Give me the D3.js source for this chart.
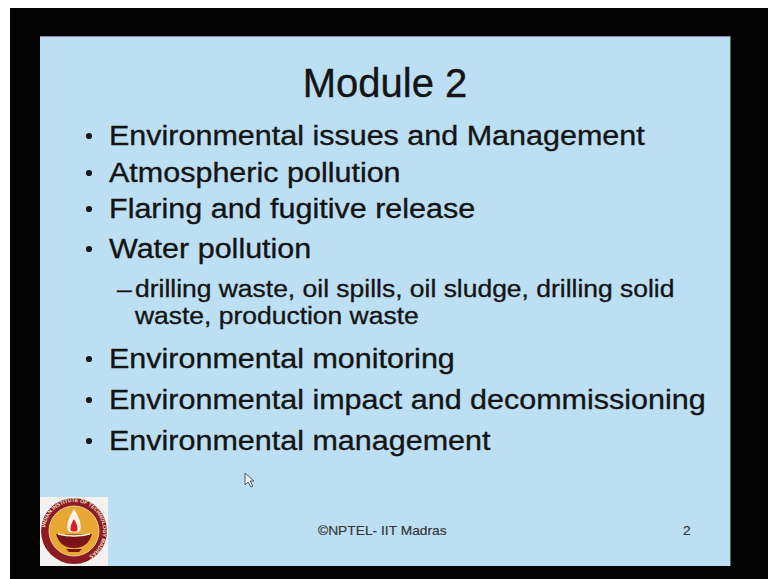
<!DOCTYPE html>
<html><head><meta charset="utf-8">
<script src="https://cdn.jsdelivr.net/npm/d3@7"></script>
<style>html,body{margin:0;padding:0;background:#fff;overflow:hidden}</style>
</head><body>
<svg id="c" width="768" height="579"></svg>
<script>
const title = "Module 2";
const bullets = [
  "Environmental issues and Management",
  "Atmospheric pollution",
  "Flaring and fugitive release",
  "Water pollution",
  "Environmental monitoring",
  "Environmental impact and decommissioning",
  "Environmental management"
];
const subItems = [
  "drilling waste, oil spills, oil sludge, drilling solid",
  "waste, production waste"
];
const footerText = "\u00A9NPTEL- IIT Madras";
const pageNumber = "2";
const logoRingText = "INDIAN INSTITUTE OF TECHNOLOGY MADRAS";

const svg = d3.select("#c");
const W = 768, H = 579;
const font = "'Liberation Sans', Arial, sans-serif";

// frame
svg.append("rect").attr("x",0).attr("y",0).attr("width",W).attr("height",H).attr("fill","#fff");
svg.append("rect").attr("x",10).attr("y",8).attr("width",W-10).attr("height",H-8).attr("fill","#030303");
const slide = {x0:40, y0:36, x1:730, y1:566};
svg.append("rect").attr("x",slide.x0).attr("y",slide.y0).attr("width",slide.x1-slide.x0).attr("height",slide.y1-slide.y0).attr("fill","#bcdff4");
svg.append("line").attr("x1",slide.x0).attr("x2",slide.x1).attr("y1",slide.y0+0.5).attr("y2",slide.y0+0.5).attr("stroke","#8a86a8").attr("stroke-width",1);
svg.append("line").attr("x1",slide.x1+0.5).attr("x2",slide.x1+0.5).attr("y1",slide.y0).attr("y2",slide.y1).attr("stroke","#3c6a3a").attr("stroke-width",1);

function txt(x,y,s,size,opts={}){
  const g = svg.append("g").attr("transform",`translate(${x},${y}) scale(${opts.sx||1},1)`);
  const fill = opts.fill||"#141414";
  return g.append("text").attr("x",0).attr("y",0).text(s)
    .attr("font-family",font).attr("font-size",size)
    .attr("fill",fill)
    .attr("stroke",fill).attr("stroke-width",opts.sw==null?0.35:opts.sw)
    .attr("text-anchor",opts.anchor||"start");
}

// title
txt(385,97,title,40,{anchor:"middle",sx:1.0});

// bullet rows
const rowY = d3.scaleOrdinal().domain(d3.range(bullets.length)).range([145,182,218,258,368,409,450]);
bullets.forEach((b,i)=>{
  const y = rowY(i);
  svg.append("circle").attr("cx",89).attr("cy",y-9).attr("r",3.1).attr("fill","#1a1a1a");
  txt(109,y,b,28,{sx:1.09});
});
// sub items
const subY = d3.scaleOrdinal().domain(d3.range(subItems.length)).range([297,324]);
txt(117,subY(0),"\u2013",24.5,{sx:1.08});
subItems.forEach((s,i)=>{ txt(135,subY(i),s,24.5,{sx:1.08}); });

// footer
txt(318,535,footerText,12,{fill:"#333",sx:1.15,sw:0.15});
txt(683,535,pageNumber,12,{fill:"#333",sx:1.15,sw:0.15});

// logo
const lg = svg.append("g");
lg.append("rect").attr("x",40).attr("y",497).attr("width",68).attr("height",69).attr("fill","#f4f2f0");
const cx=74, cy=531;
lg.append("circle").attr("cx",cx).attr("cy",cy).attr("r",33).attr("fill","#8c1c22");
lg.append("circle").attr("cx",cx).attr("cy",cy).attr("r",25).attr("fill","#e6a733");
lg.append("circle").attr("cx",cx).attr("cy",cy).attr("r",25).attr("fill","none").attr("stroke","#f3e3b0").attr("stroke-width",0.8);
const defs = svg.append("defs");
defs.append("path").attr("id","ring").attr("d",`M ${cx-29},${cy} A 29 29 0 1 1 ${cx+29},${cy} A 29 29 0 1 1 ${cx-29},${cy}`);
lg.append("text").attr("font-family",font).attr("font-size",5.2).attr("fill","#f0e0d0").attr("font-weight","bold")
  .append("textPath").attr("href","#ring").attr("startOffset","2%").text(logoRingText);
lg.append("path").attr("d",`M ${cx-18},${cy+3} Q ${cx},${cy+4} ${cx+18},${cy+3} Q ${cx+14},${cy+17} ${cx},${cy+17} Q ${cx-14},${cy+17} ${cx-18},${cy+3} Z`).attr("fill","#7a1418");
lg.append("path").attr("d",`M ${cx-16},${cy+3} Q ${cx},${cy+7} ${cx+16},${cy+3}`).attr("fill","none").attr("stroke","#fff4d8").attr("stroke-width",1.5);
lg.append("path").attr("d",`M ${cx-8},${cy+18} L ${cx+8},${cy+18} L ${cx+5},${cy+21} L ${cx-5},${cy+21} Z`).attr("fill","#7a1418");
lg.append("path").attr("d",`M ${cx},${cy-22} Q ${cx+9},${cy-8} ${cx+6},${cy} Q ${cx},${cy+3} ${cx-6},${cy} Q ${cx-9},${cy-8} ${cx},${cy-22} Z`).attr("fill","#fbf3e6");
lg.append("path").attr("d",`M ${cx},${cy-12} Q ${cx+5},${cy-4} ${cx+3},${cy} Q ${cx},${cy+1} ${cx-3},${cy} Q ${cx-5},${cy-4} ${cx},${cy-12} Z`).attr("fill","#d8202a");

// mouse cursor
svg.append("path").attr("d","M 245,473 L 245,485 L 248,482 L 251,487 L 253,486 L 250,481 L 254,481 Z")
  .attr("fill","#e8eef4").attr("stroke","#555a66").attr("stroke-width",1);
</script>
</body></html>
